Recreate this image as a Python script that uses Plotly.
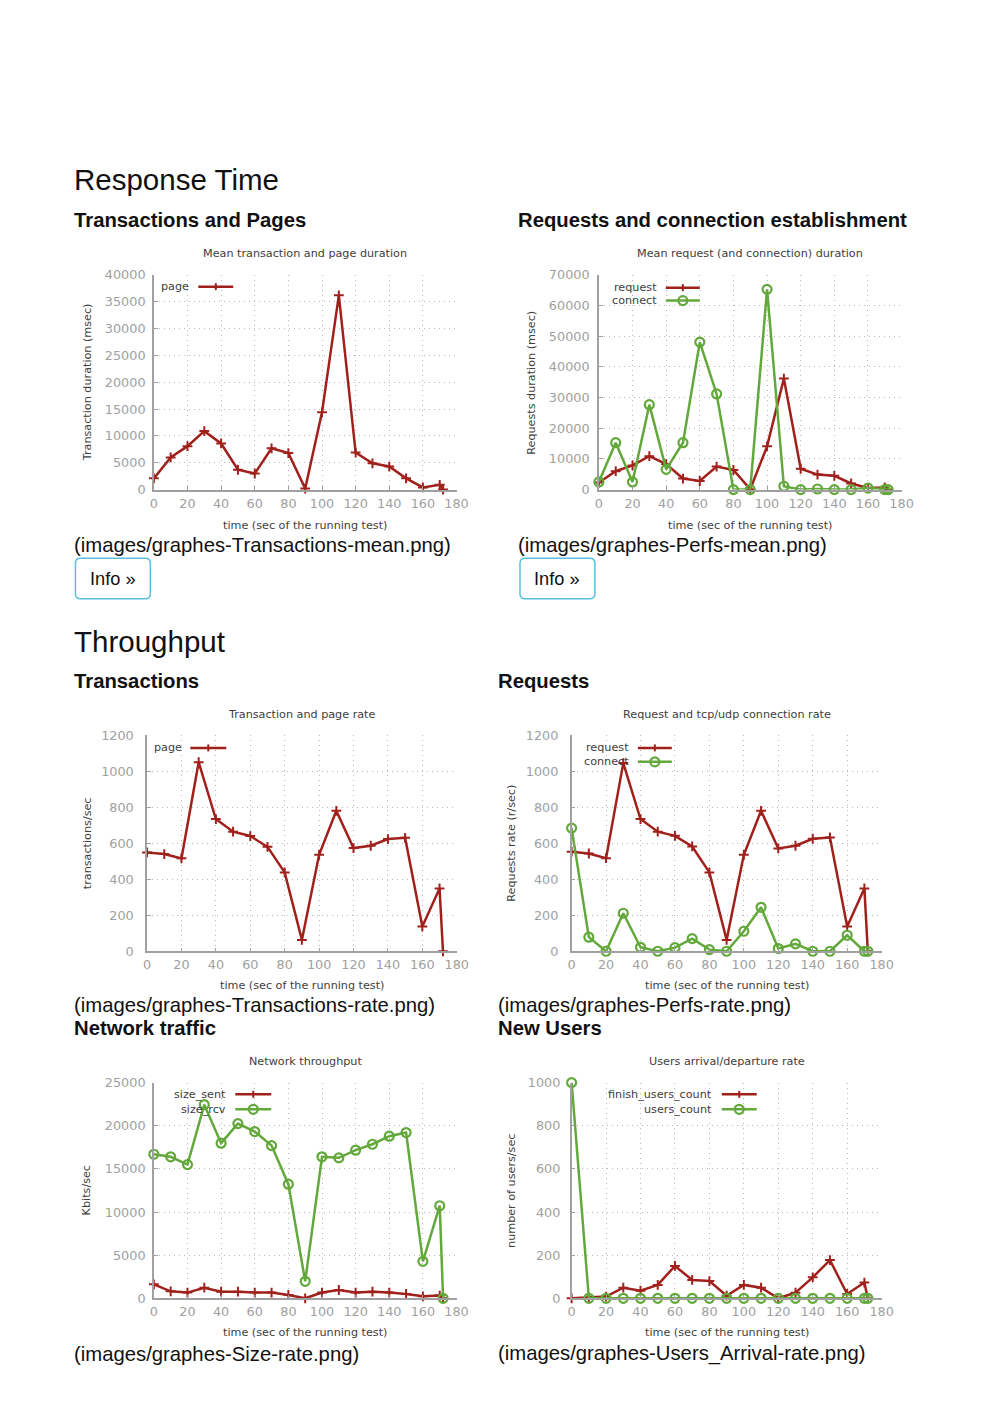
import plotly.graph_objects as go

# ---------------- data ----------------
time_s = [0, 10, 20, 30, 40, 50, 60, 70, 80, 90, 100, 110, 120, 130, 140, 150, 160, 170, 172]
x_ticks = [0, 20, 40, 60, 80, 100, 120, 140, 160, 180]

page_duration = [2100, 6000, 8100, 10900, 8600, 3700, 3000, 7700, 6800, 200, 14400, 36200, 6900, 4900, 4300, 2100, 400, 900, 0]
request_duration = [2300, 6000, 7900, 10900, 8300, 3600, 2800, 7500, 6400, 100, 14100, 36200, 6800, 4900, 4500, 2000, 500, 700, 0]
connect_duration = [2500, 15300, 2500, 27700, 6600, 15300, 48100, 31200, 0, 0, 65300, 1100, 0, 200, 0, 0, 500, 0, 0]

page_rate = [549, 540, 516, 1050, 734, 664, 640, 580, 438, 63, 536, 780, 573, 586, 623, 630, 137, 349, 0]
request_rate = [553, 543, 517, 1045, 734, 664, 641, 582, 438, 63, 536, 780, 571, 586, 625, 632, 137, 349, 0]
connect_rate = [684, 78, 0, 211, 22, 0, 20, 70, 9, 0, 111, 244, 15, 41, 0, 0, 89, 0, 0]

size_sent = [1620, 810, 660, 1230, 770, 770, 660, 660, 390, 0, 660, 960, 660, 770, 660, 500, 230, 310, 0]
size_rcv = [16700, 16400, 15500, 22450, 17980, 20250, 19330, 17700, 13230, 1970, 16400, 16280, 17170, 17860, 18790, 19210, 4280, 10730, 0]

finish_users_count = [0, 3, 8, 49, 35, 62, 150, 85, 80, 12, 62, 49, 0, 26, 97, 177, 20, 73, 0]
users_count = [1000, 0, 0, 0, 0, 0, 0, 0, 0, 0, 0, 0, 0, 0, 0, 0, 0, 0, 0]

# ---------------- page geometry ----------------
W, H = 1000, 1412
SX, BX, SY, BY = 0.985, 3.5, 0.991, 5.9   # measured render mapping
def px(X):
    return ((X - BX) / SX) / W
def py(Y):
    return 1 - ((Y - BY) / SY) / H

RED = "#a0211c"
GREEN = "#62a83a"
CFONT = "DejaVu Sans"
PFONT = "Liberation Sans"

charts = [
    dict(box=(153.5, 456.5, 273.3, 488.3), ymax=40000, dtick=5000,
         title="Mean transaction and page duration", ytitle="Transaction duration (msec)",
         ytx=86.5, tty=251.5, xty=524, ystand=4,
         series=[("page", page_duration, "red")],
         leg=dict(tx=190, sx0=198, sx1=233, ys=[285])),
    dict(box=(599, 902, 273.3, 488.3), ymax=70000, dtick=10000,
         title="Mean request (and connection) duration", ytitle="Requests duration (msec)",
         ytx=531.5, tty=251.5, xty=524, ystand=5,
         series=[("request", request_duration, "red"), ("connect", connect_duration, "green")],
         leg=dict(tx=658, sx0=666, sx1=700, ys=[286, 299])),
    dict(box=(146.7, 456.7, 734.3, 950.7), ymax=1200, dtick=200,
         title="Transaction and page rate", ytitle="transactions/sec",
         ytx=86.5, tty=713.3, xty=985, ystand=9,
         series=[("page", page_rate, "red")],
         leg=dict(tx=183, sx0=190, sx1=226, ys=[747])),
    dict(box=(571.7, 882, 734.3, 950.7), ymax=1200, dtick=200,
         title="Request and tcp/udp connection rate", ytitle="Requests rate (r/sec)",
         ytx=511.5, tty=713.3, xty=985, ystand=9,
         series=[("request", request_rate, "red"), ("connect", connect_rate, "green")],
         leg=dict(tx=630, sx0=638, sx1=672, ys=[747, 761])),
    dict(box=(153.5, 456.5, 1082.3, 1298.3), ymax=25000, dtick=5000,
         title="Network throughput", ytitle="Kbits/sec",
         ytx=86.5, tty=1061, xty=1333, ystand=4,
         series=[("size_sent", size_sent, "red"), ("size_rcv", size_rcv, "green")],
         leg=dict(tx=227, sx0=235, sx1=271, ys=[1094, 1109])),
    dict(box=(571.7, 882, 1082.3, 1298.3), ymax=1000, dtick=200,
         title="Users arrival/departure rate", ytitle="number of users/sec",
         ytx=511.5, tty=1061, xty=1333, ystand=7,
         series=[("finish_users_count", finish_users_count, "red"), ("users_count", users_count, "green")],
         leg=dict(tx=713, sx0=722, sx1=757, ys=[1094, 1109])),
]

fig = go.Figure()
annotations = []
shapes = []
layout = {}

def add_text(text, X, Y, size, color="#111", bold=False, family=PFONT, xanchor="left", angle=0):
    annotations.append(dict(
        text=("<b>%s</b>" % text) if bold else text, x=px(X), y=py(Y), xref="paper", yref="paper",
        xanchor=xanchor, yanchor="middle", showarrow=False, textangle=angle, borderpad=0,
        font=dict(family=family, size=size, color=color)))

for i, c in enumerate(charts, start=1):
    x0, x1, y0, y1 = c["box"]
    xa = "xaxis" if i == 1 else "xaxis%d" % i
    ya = "yaxis" if i == 1 else "yaxis%d" % i
    xr = "x" if i == 1 else "x%d" % i
    yr = "y" if i == 1 else "y%d" % i
    common = dict(showline=True, linecolor="#a0a0a0", linewidth=1.5, mirror=False,
                  ticks="inside", ticklen=4, tickcolor="#a0a0a0", tickwidth=1,
                  showgrid=True, gridcolor="#b8b8b8", griddash="1px,4px", gridwidth=1,
                  zeroline=False, tickformat="d",
                  tickfont=dict(family=CFONT, size=12.8, color="#a0a0a0"),
                  fixedrange=True)
    layout[xa] = dict(domain=[px(x0), px(x1)], anchor=yr, range=[0, 180],
                      tickmode="array", tickvals=x_ticks, ticklabelstandoff=1, **common)
    yt = list(range(0, c["ymax"] + 1, c["dtick"]))
    layout[ya] = dict(domain=[py(y1), py(y0)], anchor=xr, range=[0, c["ymax"]],
                      tickmode="array", tickvals=yt, ticklabelstandoff=c["ystand"], **common)
    for name, vals, col in c["series"]:
        if col == "red":
            fig.add_trace(go.Scatter(x=time_s, y=vals, name=name, xaxis=xr, yaxis=yr,
                                     mode="lines+markers", cliponaxis=False,
                                     line=dict(color=RED, width=2.5),
                                     marker=dict(symbol="cross-thin-open", size=7,
                                                 line=dict(color=RED, width=2)),
                                     showlegend=False))
        else:
            fig.add_trace(go.Scatter(x=time_s, y=vals, name=name, xaxis=xr, yaxis=yr,
                                     mode="lines+markers", cliponaxis=False,
                                     line=dict(color=GREEN, width=2.5),
                                     marker=dict(symbol="circle-open", size=9, color=GREEN,
                                                 line=dict(color=GREEN, width=2.2)),
                                     showlegend=False))
    cx = (x0 + x1) / 2
    add_text(c["title"], cx, c["tty"], 11.2, color="#404040", family=CFONT, xanchor="center")
    add_text("time (sec of the running test)", cx, c["xty"], 11.2, color="#404040", family=CFONT, xanchor="center")
    add_text(c["ytitle"], c["ytx"], (y0 + y1) / 2, 11.2, color="#404040", family=CFONT, xanchor="center", angle=-90)
    lg = c["leg"]
    for (name, vals, col), Y in zip(c["series"], lg["ys"]):
        add_text(name, lg["tx"], Y, 11.2, color="#404040", family=CFONT, xanchor="right")
        colr = RED if col == "red" else GREEN
        shapes.append(dict(type="line", xref="paper", yref="paper", x0=px(lg["sx0"]), x1=px(lg["sx1"]),
                           y0=py(Y), y1=py(Y), line=dict(color=colr, width=2.5)))
        mx = (lg["sx0"] + lg["sx1"]) / 2
        if col == "red":
            shapes.append(dict(type="line", xref="paper", yref="paper", x0=px(mx), x1=px(mx),
                               y0=py(Y - 3.5), y1=py(Y + 3.5), line=dict(color=colr, width=2)))
        else:
            shapes.append(dict(type="circle", xref="paper", yref="paper", x0=px(mx - 4.5), x1=px(mx + 4.5),
                               y0=py(Y + 4.5), y1=py(Y - 4.5), line=dict(color=colr, width=2.2),
                               fillcolor="rgba(0,0,0,0)"))

add_text("Response Time", 72.5, 177.5, 29.5)
add_text("Transactions and Pages", 72.5, 218, 20.3, bold=True)
add_text("Requests and connection establishment", 517.5, 218, 20.3, bold=True)
add_text("(images/graphes-Transactions-mean.png)", 72.5, 544, 20.3)
add_text("(images/graphes-Perfs-mean.png)", 517.5, 544, 20.3)
add_text("Throughput", 72.5, 640, 29.5)
add_text("Transactions", 72.5, 680, 20.3, bold=True)
add_text("Requests", 497.5, 680, 20.3, bold=True)
add_text("(images/graphes-Transactions-rate.png)", 72.5, 1005, 20.3)
add_text("(images/graphes-Perfs-rate.png)", 497.5, 1005, 20.3)
add_text("Network traffic", 72.5, 1028, 20.3, bold=True)
add_text("New Users", 497.5, 1028, 20.3, bold=True)
add_text("(images/graphes-Size-rate.png)", 72.5, 1354, 20.3)
add_text("(images/graphes-Users_Arrival-rate.png)", 497.5, 1354, 20.3)

def rrect(x0, y0, x1, y1, r):
    return ("M {a},{b} L {c},{b} Q {d},{b} {d},{e} L {d},{f} Q {d},{g} {c},{g} L {a},{g} "
            "Q {h},{g} {h},{f} L {h},{e} Q {h},{b} {a},{b} Z").format(
        a=px(x0 + r), b=py(y0), c=px(x1 - r), d=px(x1), e=py(y0 + r), f=py(y1 - r), g=py(y1), h=px(x0))

for bx in (75, 520):
    shapes.append(dict(type="path", xref="paper", yref="paper", path=rrect(bx, 557, bx + 75, 597.5, 5),
                       line=dict(color="#5bc0de", width=1.5), fillcolor="rgba(0,0,0,0)"))
    add_text("Info »", bx + 37.5, 577.5, 18.2, xanchor="center")

fig.update_layout(width=W, height=H, margin=dict(l=0, r=0, t=0, b=0),
                  paper_bgcolor="white", plot_bgcolor="white",
                  annotations=annotations, shapes=shapes, showlegend=False, **layout)

fig.write_html("out.html", config={"displayModeBar": False},
               post_script="document.body.style.margin='0';document.body.style.overflow='hidden';")
